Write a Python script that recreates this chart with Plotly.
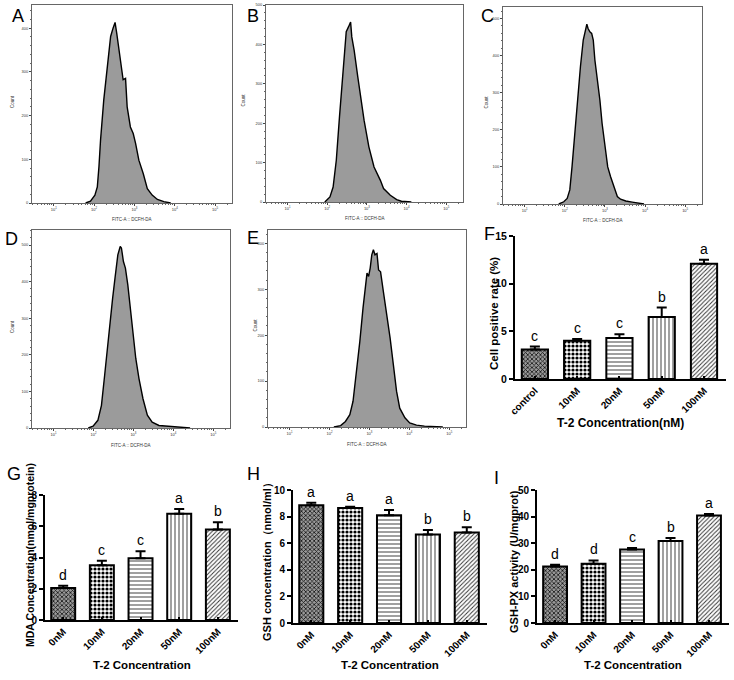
import plotly.graph_objects as go

# ---------------- data ----------------
# flow-cytometry histograms: x = log10(FITC-A :: DCFH-DA), y = count
A_log = [1.79, 1.91, 2.02, 2.08, 2.12, 2.16, 2.24, 2.33, 2.41, 2.47, 2.52, 2.56, 2.61, 2.67, 2.72, 2.78,
         2.82, 2.90, 2.97, 3.03, 3.11, 3.22, 3.32, 3.44, 3.57, 3.73, 3.90]
A_cnt = [0, 4, 18, 37, 83, 144, 236, 312, 381, 400, 413, 389, 358, 320, 282, 285,
         220, 174, 159, 136, 98, 67, 33, 18, 8, 3, 0]

B_log = [1.94, 2.07, 2.15, 2.23, 2.31, 2.40, 2.48, 2.54, 2.59, 2.62, 2.68, 2.77, 2.85, 2.93, 3.05,
         3.18, 3.34, 3.42, 3.59, 3.75, 3.87, 4.12]
B_cnt = [0, 13, 38, 106, 216, 335, 432, 445, 457, 419, 385, 318, 258, 207, 140,
         89, 55, 34, 17, 6, 2, 0]

C_log = [1.85, 1.975, 2.06, 2.125, 2.18, 2.25, 2.31, 2.39, 2.46, 2.52, 2.55, 2.58, 2.625, 2.67, 2.71,
         2.75, 2.81, 2.875, 2.93, 3.0, 3.07, 3.14, 3.225, 3.31, 3.39, 3.52, 3.68, 3.85, 3.975]
C_cnt = [0, 6, 15, 38, 100, 190, 280, 370, 442, 478, 485, 473, 464, 460, 442,
         388, 338, 280, 217, 154, 100, 74, 47, 20, 13, 8, 5, 3, 0]

D_log = [1.87, 1.99, 2.11, 2.20, 2.28, 2.36, 2.43, 2.48, 2.54, 2.61, 2.67, 2.70, 2.75, 2.80, 2.86,
         2.92, 2.98, 3.06, 3.14, 3.24, 3.35, 3.47, 3.64, 3.85, 4.05, 4.30, 4.42]
D_cnt = [0, 5, 21, 62, 144, 236, 318, 355, 410, 473, 496, 492, 455, 437, 391,
         327, 272, 190, 135, 80, 35, 16, 7, 5, 3, 2, 0]

E_log = [2.11, 2.28, 2.40, 2.51, 2.59, 2.67, 2.76, 2.84, 2.90, 2.94, 2.98, 3.02, 3.06, 3.10, 3.14,
         3.19, 3.23, 3.28, 3.35, 3.43, 3.52, 3.60, 3.68, 3.76, 3.89, 4.01, 4.18, 4.38, 4.67, 4.84]
E_cnt = [0, 3, 12, 27, 56, 114, 186, 259, 309, 335, 328, 346, 375, 386, 375,
         378, 342, 338, 295, 251, 193, 136, 78, 41, 20, 9, 4, 2, 1, 0]

hist_ytop = [453, 500, 531, 541, 429]
hist_yticks = [[0, 100, 200, 300, 400], [0, 100, 200, 300, 400, 500], [0, 100, 200, 300, 400, 500],
               [0, 100, 200, 300, 400, 500], [0, 100, 200, 300, 400]]
decades = [1, 2, 3, 4, 5]
decade_labels = ["10<sup>1</sup>", "10<sup>2</sup>", "10<sup>3</sup>", "10<sup>4</sup>", "10<sup>5</sup>"]

# bar charts
F_cats = ["control", "10nM", "20nM", "50nM", "100nM"]
F_vals = [3.1, 4.0, 4.3, 6.5, 12.1]
F_err = [0.3, 0.2, 0.4, 1.0, 0.4]
F_letters = ["c", "c", "c", "b", "a"]

conc_cats = ["0nM", "10nM", "20nM", "50nM", "100nM"]
G_vals = [2.05, 3.5, 3.95, 6.8, 5.8]
G_err = [0.15, 0.3, 0.45, 0.3, 0.45]
G_letters = ["d", "c", "c", "a", "b"]

H_vals = [8.85, 8.65, 8.1, 6.65, 6.8]
H_err = [0.2, 0.1, 0.4, 0.35, 0.4]
H_letters = ["a", "a", "a", "b", "b"]

I_vals = [21.2, 22.3, 27.6, 30.8, 40.4]
I_err = [0.7, 1.2, 0.6, 1.2, 0.6]
I_letters = ["d", "d", "c", "b", "a"]

# ---------------- layout helpers ----------------
W, H = 734, 680


def xd(a, b):
    return [a / W, b / W]


def yd(t, b):
    return [1 - b / H, 1 - t / H]


def px(x, y):
    return dict(x=x / W, y=1 - y / H, xref="paper", yref="paper", xanchor="center", yanchor="middle",
                showarrow=False)


fig = go.Figure()
layout = dict(width=W, height=H, margin=dict(l=0, r=0, t=0, b=0, pad=0), paper_bgcolor="white",
              plot_bgcolor="white", showlegend=False, template="none")
annotations = []
FONT = "Liberation Sans, Arial, sans-serif"

# ---------------- histograms ----------------
hist_data = [(A_log, A_cnt), (B_log, B_cnt), (C_log, C_cnt), (D_log, D_cnt), (E_log, E_cnt)]
hist_boxes = [(32, 232, 5, 203), (266, 463, 5, 202), (503, 702, 7, 204), (32, 230, 230, 428), (268, 466, 230, 427)]
hist_letters = [("A", 18, 16), ("B", 253, 16), ("C", 487, 16), ("D", 11, 239), ("E", 253, 238)]
count_x = [12, 243, 486, 12, 255]
minor_x = [m * 10 ** d for d in range(0, 6) for m in range(2, 10)]

for i, ((lg, cnt), (x0, x1, y0, y1)) in enumerate(zip(hist_data, hist_boxes)):
    n = i + 1
    xs = [10 ** v for v in lg]
    fig.add_trace(go.Scatter(x=xs, y=cnt, mode="lines", fill="tozeroy", fillcolor="#9b9b9b",
                             line=dict(color="black", width=1.4), xaxis=f"x{n}", yaxis=f"y{n}",
                             hoverinfo="skip"))
    layout[f"xaxis{n}"] = dict(domain=xd(x0, x1), anchor=f"y{n}", type="log", range=[0.46, 5.42],
                               automargin=False,
                               tickvals=[10 ** d for d in decades], ticktext=decade_labels,
                               tickfont=dict(size=4, color="#333", family=FONT),
                               showline=True, linecolor="#666", linewidth=1, mirror=True,
                               ticks="outside", ticklen=2, tickcolor="#444", showgrid=False, zeroline=False,
                               minor=dict(tickvals=minor_x, ticks="outside", ticklen=1.2, tickcolor="#666"))
    layout[f"yaxis{n}"] = dict(domain=yd(y0, y1), anchor=f"x{n}", range=[0, hist_ytop[i]],
                               automargin=False,
                               tickvals=hist_yticks[i], tickfont=dict(size=4, color="#333", family=FONT),
                               showline=True, linecolor="#666", linewidth=1, mirror=True,
                               ticks="outside", ticklen=2, tickcolor="#444", showgrid=False, zeroline=False,
                               minor=dict(dtick=20, ticks="outside", ticklen=1.2, tickcolor="#666"))
    annotations.append(dict(text="Count", textangle=-90, font=dict(size=4.5, color="#333", family=FONT),
                            **px(count_x[i], (y0 + y1) / 2 - 3)))
    annotations.append(dict(text="FITC-A :: DCFH-DA", font=dict(size=4.5, color="#333", family=FONT),
                            **px((x0 + x1) / 2, y1 + 17)))
    L, lx, ly = hist_letters[i]
    annotations.append(dict(text=L, font=dict(size=18, color="black", family=FONT), **px(lx, ly)))

# ---------------- bar charts ----------------
pat = dict(shape=["x", ".", "-", "|", "/"], size=[3, 4, 4, 4, 3],
           solidity=[0.45, 0.5, 0.28, 0.28, 0.32],
           fgcolor=["#111", "#000", "#555", "#555", "#333"],
           bgcolor=["#9a9a9a", "#fff", "#fff", "#fff", "#fff"], fillmode="replace")

bar_specs = [
    dict(n=6, cats=F_cats, vals=F_vals, err=F_err, let=F_letters, box=(515, 726, 236, 379), rng=[0, 15],
         dtick=5, ytitle="Cell positive rate (%)", ytx=494, ytsize=11.5, yty=313,
         xtitle="T-2 Concentration(nM)", xty=423, letter=("F", 489, 234)),
    dict(n=7, cats=conc_cats, vals=G_vals, err=G_err, let=G_letters, box=(45, 238, 495, 620), rng=[0, 8],
         dtick=2, ytitle="MDA Concentration(nmol/mgprotein)", ytx=30, ytsize=10.5, yty=555,
         xtitle="T-2 Concentration", xty=665, letter=("G", 14, 474)),
    dict(n=8, cats=conc_cats, vals=H_vals, err=H_err, let=H_letters, box=(293, 487, 490, 623), rng=[0, 10],
         dtick=2, ytitle="GSH concentration\uff08nmol/ml\uff09", ytx=267, ytsize=11, yty=559,
         xtitle="T-2 Concentration", xty=665, letter=("H", 253, 474)),
    dict(n=9, cats=conc_cats, vals=I_vals, err=I_err, let=I_letters, box=(537, 729, 490, 623), rng=[0, 50],
         dtick=10, ytitle="GSH-PX activity (U/mgprot)", ytx=514, ytsize=11, yty=562,
         xtitle="T-2 Concentration", xty=665, letter=("I", 496, 478)),
]

for s in bar_specs:
    n = s["n"]
    x0, x1, y0, y1 = s["box"]
    fig.add_trace(go.Bar(x=s["cats"], y=s["vals"], width=0.62, xaxis=f"x{n}", yaxis=f"y{n}",
                         marker=dict(color="white", line=dict(color="black", width=2), pattern=pat),
                         error_y=dict(type="data", symmetric=False, array=s["err"], arrayminus=[0] * 5,
                                      color="black", thickness=2, width=5),
                         hoverinfo="skip"))
    layout[f"xaxis{n}"] = dict(domain=xd(x0, x1), anchor=f"y{n}", type="category", range=[-0.47, 4.52],
                               automargin=False,
                               showline=True, linecolor="black", linewidth=2, ticks="inside", ticklen=3,
                               tickwidth=1.5, tickcolor="black", tickangle=-45, showgrid=False,
                               tickfont=dict(size=10, color="black", family=FONT, weight="bold"))
    layout[f"yaxis{n}"] = dict(domain=yd(y0, y1), anchor=f"x{n}", range=s["rng"], dtick=s["dtick"],
                               automargin=False,
                               showline=True, linecolor="black", linewidth=2, ticks="outside", ticklen=4,
                               tickwidth=2, tickcolor="black", showgrid=False, zeroline=False,
                               tickfont=dict(size=10.5 if n == 6 else 10, color="black", family=FONT,
                                             weight="bold"))
    for c, v, e, t in zip(s["cats"], s["vals"], s["err"], s["let"]):
        annotations.append(dict(text=t, x=c, y=v + e, xref=f"x{n}", yref=f"y{n}", showarrow=False,
                                xanchor="center", yanchor="bottom", yshift=1,
                                font=dict(size=14, color="black", family=FONT)))
    annotations.append(dict(text=s["ytitle"], textangle=-90,
                            font=dict(size=s["ytsize"], color="black", family=FONT, weight="bold"),
                            **px(s["ytx"], s["yty"])))
    annotations.append(dict(text=s["xtitle"],
                            font=dict(size=12 if n == 6 else 11.5, color="black", family=FONT, weight="bold"),
                            **px((x0 + x1) / 2, s["xty"])))
    L, lx, ly = s["letter"]
    annotations.append(dict(text=L, font=dict(size=18, color="black", family=FONT), **px(lx, ly)))

layout["annotations"] = annotations
fig.update_layout(**layout)
fig.write_html("out.html", config={"displayModeBar": False},
               post_script="document.body.style.margin='0';document.body.style.padding='0';")
